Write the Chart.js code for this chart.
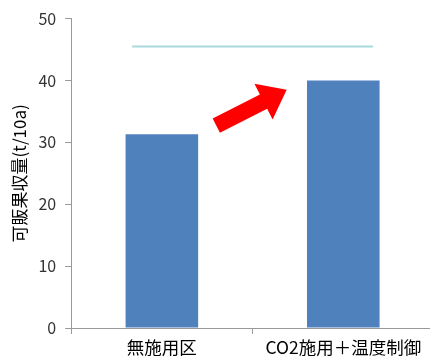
<!DOCTYPE html>
<html>
<head>
<meta charset="utf-8">
<script src="https://cdn.jsdelivr.net/npm/chart.js@4"></script>
<style>
    html, body { margin: 0; padding: 0; background: #fff; overflow: hidden; }
    #wrap { width: 434px; height: 363px; }
</style>
</head>
<body>
<div id="wrap"><canvas id="yieldChart" width="434" height="363"></canvas></div>
<script>
// chart data
const categories = ['無施用区', 'CO2施用＋温度制御'];
const yieldValues = [31.3, 40.0];
const refLevel = 45.5;           // light blue reference line
const refSpan = [-0.33, 1.33];   // in category units
const yTicks = [0, 10, 20, 30, 40, 50];

// arrow from first bar towards second (category units / values)
const arrowFrom = { x: 0.25, y: 32.7 };
const arrowTo = { x: 0.735, y: 38.5 };

const fontFamily = "'Noto Sans CJK JP', 'Noto Sans', sans-serif";

// draws the red block arrow using the chart scales
const arrowPlugin = {
    id: 'arrow',
    afterDatasetsDraw(chart) {
        const xs = chart.scales.xl;
        const ys = chart.scales.y;
        const x0 = xs.getPixelForValue(arrowFrom.x), y0 = ys.getPixelForValue(arrowFrom.y);
        const x1 = xs.getPixelForValue(arrowTo.x), y1 = ys.getPixelForValue(arrowTo.y);
        const ang = Math.atan2(y1 - y0, x1 - x0);
        const len = Math.hypot(x1 - x0, y1 - y0);
        const shaft = 8, head = 20, headLen = 26;
        const ctx = chart.ctx;
        ctx.save();
        ctx.translate(x0, y0);
        ctx.rotate(ang);
        ctx.beginPath();
        ctx.moveTo(0, -shaft);
        ctx.lineTo(len - headLen, -shaft);
        ctx.lineTo(len - headLen, -head);
        ctx.lineTo(len, 0);
        ctx.lineTo(len - headLen, head);
        ctx.lineTo(len - headLen, shaft);
        ctx.lineTo(0, shaft);
        ctx.closePath();
        ctx.fillStyle = '#ff0000';
        ctx.fill();
        ctx.restore();
    }
};

const ctx = document.getElementById('yieldChart').getContext('2d');
const yieldChart = new Chart(ctx, {
    type: 'bar',
    data: {
        labels: categories,
        datasets: [{
            label: '可販果収量',
            data: yieldValues,
            backgroundColor: '#4f81bd',
            barPercentage: 0.4,
            categoryPercentage: 1.0,
            grouped: false,
            xAxisID: 'x',
            order: 2
        }, {
            type: 'line',
            label: 'ref',
            data: refSpan.map(x => ({ x: x, y: refLevel })),
            xAxisID: 'xl',
            borderColor: '#a9d9dd',
            borderWidth: 2,
            pointRadius: 0,
            fill: false,
            order: 1
        }]
    },
    options: {
        responsive: false,
        animation: false,
        layout: { padding: { top: 10, left: 9, right: 0, bottom: 2 } },
        plugins: {
            legend: { display: false },
            tooltip: { enabled: false }
        },
        scales: {
            x: {
                grid: { drawOnChartArea: false, drawTicks: true, tickLength: 6, color: '#999' },
                border: { color: '#999' },
                ticks: { color: '#000', font: { family: fontFamily, size: 17.5 }, padding: 3 },
                afterFit(axis) { axis.height = axis.height; }
            },
            xl: {
                type: 'linear',
                display: false,
                min: -0.5,
                max: 1.5
            },
            y: {
                min: 0,
                max: 50,
                afterBuildTicks(axis) { axis.ticks = yTicks.map(v => ({ value: v })); },
                grid: { drawOnChartArea: false, drawTicks: true, tickLength: 6, color: '#999' },
                border: { color: '#999' },
                ticks: { color: '#333', font: { family: fontFamily, size: 16 }, padding: 9 },
                title: {
                    display: true,
                    text: '可販果収量(t/10a)',
                    color: '#000',
                    font: { family: fontFamily, size: 17 },
                    padding: { top: 0, bottom: 0 }
                }
            }
        }
    },
    plugins: [arrowPlugin]
});
</script>
</body>
</html>
